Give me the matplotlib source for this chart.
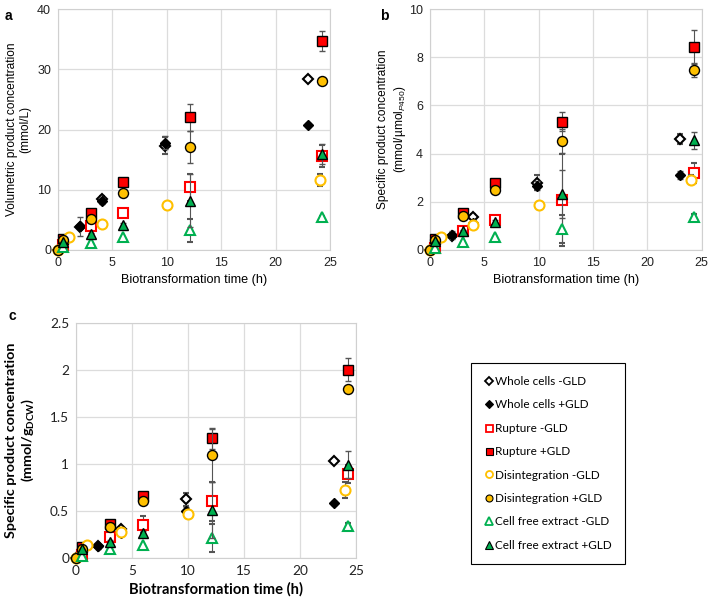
import numpy as np
import matplotlib
matplotlib.use("Agg")
import matplotlib.pyplot as plt
from matplotlib.lines import Line2D

plt.rcParams['font.family'] = ['Liberation Sans', 'DejaVu Sans']
plt.rcParams['mathtext.fontset'] = 'custom'
plt.rcParams['mathtext.rm'] = 'Liberation Sans'
plt.rcParams['mathtext.it'] = 'Liberation Sans:italic'

# sampling times (h)
t_wc = [0, 2, 4, 9.8, 23]           # whole cells
t_ru = [0.5, 3, 6, 12.1, 24.3]      # rupture / cell free extract
t_dm = [0, 1, 4, 10, 24.05]         # disintegration -GLD
t_dp = [0, 0.5, 3, 6, 12.1, 24.3]   # disintegration +GLD

# panel a: volumetric product concentration (mmol/L)
a_wc_m = [0, 3.8, 8.4, 17.3, 28.3]
a_wc_p = [0, 3.9, 8.2, 17.8, 20.7]
a_ru_m = [0.8, 3.9, 6.2, 10.4, 15.6]
a_ru_p = [1.8, 6.2, 11.3, 22.0, 34.7]
a_di_m = [0, 2.1, 4.3, 7.4, 11.6]
a_di_p = [0, 1.6, 5.1, 9.4, 17.1, 28.1]
a_cf_m = [0.5, 1.2, 2.1, 3.3, 5.4]
a_cf_p = [1.3, 2.6, 4.1, 8.2, 15.9]
ae_wc_m = [0, 0, 0.5, 1.4, 0.3]
ae_wc_p = [0, 1.6, 0.5, 1.1, 0.3]
ae_ru_m = [0, 0.3, 0.3, 2.2, 1.9]
ae_ru_p = [0.3, 0.3, 0.3, 2.2, 1.6]
ae_di_m = [0, 0.3, 0.2, 0.4, 1.0]
ae_di_p = [0, 0, 0.3, 0.3, 2.7, 0.3]
ae_cf_m = [0, 0, 0, 1.9, 0.3]
ae_cf_p = [0, 0.3, 0.3, 4.4, 1.7]

# panel b: specific product concentration (mmol/umol P450)
b_wc_m = [0, 0.6, 1.38, 2.8, 4.6]
b_wc_p = [0, 0.62, 1.13, 2.67, 3.11]
b_ru_m = [0.1, 0.8, 1.25, 2.07, 3.2]
b_ru_p = [0.46, 1.52, 2.77, 5.32, 8.41]
b_di_m = [0.02, 0.53, 1.04, 1.85, 2.92]
b_di_p = [0, 0.4, 1.4, 2.48, 4.52, 7.47]
b_cf_m = [0.1, 0.35, 0.53, 0.86, 1.38]
b_cf_p = [0.39, 0.79, 1.18, 2.32, 4.55]
be_wc_m = [0, 0, 0.1, 0.3, 0.2]
be_wc_p = [0, 0.15, 0.1, 0.2, 0.15]
be_ru_m = [0, 0.05, 0.05, 1.9, 0.4]
be_ru_p = [0.05, 0.05, 0.1, 0.4, 0.7]
be_di_m = [0, 0.05, 0.05, 0.15, 0.2]
be_di_p = [0, 0, 0.05, 0.1, 0.5, 0.3]
be_cf_m = [0, 0, 0, 0.58, 0.1]
be_cf_p = [0, 0.05, 0.05, 1.0, 0.35]

# panel c: specific product concentration (mmol/g DCW)
c_wc_m = [0, 0.12, 0.3, 0.62, 1.03]
c_wc_p = [0, 0.12, 0.26, 0.5, 0.58]
c_ru_m = [0.03, 0.22, 0.35, 0.6, 0.89]
c_ru_p = [0.11, 0.36, 0.66, 1.27, 2.0]
c_di_m = [0, 0.13, 0.27, 0.46, 0.72]
c_di_p = [0, 0.09, 0.33, 0.6, 1.09, 1.79]
c_cf_m = [0.02, 0.09, 0.13, 0.21, 0.34]
c_cf_p = [0.09, 0.17, 0.26, 0.51, 0.99]
ce_wc_m = [0, 0, 0.03, 0.07, 0.02]
ce_wc_p = [0, 0.03, 0.03, 0.04, 0.02]
ce_ru_m = [0, 0.03, 0.09, 0.21, 0.1]
ce_ru_p = [0.03, 0.02, 0.02, 0.11, 0.12]
ce_di_m = [0, 0.03, 0.02, 0.03, 0.08]
ce_di_p = [0, 0, 0.02, 0.03, 0.28, 0.03]
ce_cf_m = [0, 0, 0, 0.15, 0.03]
ce_cf_p = [0, 0.02, 0.02, 0.3, 0.14]

labels = ['Whole cells -GLD', 'Whole cells +GLD', 'Rupture -GLD', 'Rupture +GLD',
          'Disintegration -GLD', 'Disintegration +GLD',
          'Cell free extract -GLD', 'Cell free extract +GLD']

RED, YEL, GRN = '#ff0000', '#ffc000', '#00b050'
# marker, size, face, edge
styles = [('D', 5.5, 'white', 'black'), ('D', 5.5, 'black', 'black'),
          ('s', 7.2, 'white', RED), ('s', 7.2, RED, 'black'),
          ('o', 7.2, 'white', YEL), ('o', 7.2, YEL, 'black'),
          ('^', 7.8, 'white', GRN), ('^', 7.8, GRN, 'black')]
times = [t_wc, t_wc, t_ru, t_ru, t_dm, t_dp, t_ru, t_ru]


def draw(ax, vals, errs, yticks, ylabels):
    for i in range(8):
        m, ms, fc, ec = styles[i]
        ax.errorbar(times[i], vals[i], yerr=errs[i], fmt=m, ms=ms, mfc=fc, mec=ec,
                    mew=1.5 if fc == 'white' else 1.0, ecolor='#555555',
                    elinewidth=0.8, capsize=2.5, capthick=0.8, clip_on=False,
                    zorder=3 + i * 0.1)
    ax.set_xlim(0, 25)
    ax.set_ylim(yticks[0], yticks[-1])
    ax.set_xticks([0, 5, 10, 15, 20, 25])
    ax.set_yticks(yticks)
    ax.set_yticklabels(ylabels)
    ax.grid(True, color='#dcdcdc', lw=0.9)
    ax.set_axisbelow(True)
    for s in ax.spines.values():
        s.set_color('#d0d0d0')
    ax.tick_params(length=0, pad=5, colors='#222222')


fig = plt.figure(figsize=(7.09, 6.05), dpi=100)
ax_a = fig.add_axes([0.0818, 0.5868, 0.3836, 0.3983])
ax_b = fig.add_axes([0.6065, 0.5868, 0.3832, 0.3983])
ax_c = fig.add_axes([0.1072, 0.0782, 0.3949, 0.3884])

draw(ax_a, [a_wc_m, a_wc_p, a_ru_m, a_ru_p, a_di_m, a_di_p, a_cf_m, a_cf_p],
     [ae_wc_m, ae_wc_p, ae_ru_m, ae_ru_p, ae_di_m, ae_di_p, ae_cf_m, ae_cf_p],
     [0, 10, 20, 30, 40], ['0', '10', '20', '30', '40'])
draw(ax_b, [b_wc_m, b_wc_p, b_ru_m, b_ru_p, b_di_m, b_di_p, b_cf_m, b_cf_p],
     [be_wc_m, be_wc_p, be_ru_m, be_ru_p, be_di_m, be_di_p, be_cf_m, be_cf_p],
     [0, 2, 4, 6, 8, 10], ['0', '2', '4', '6', '8', '10'])
draw(ax_c, [c_wc_m, c_wc_p, c_ru_m, c_ru_p, c_di_m, c_di_p, c_cf_m, c_cf_p],
     [ce_wc_m, ce_wc_p, ce_ru_m, ce_ru_p, ce_di_m, ce_di_p, ce_cf_m, ce_cf_p],
     [0, 0.5, 1, 1.5, 2, 2.5], ['0', '0.5', '1', '1.5', '2', '2.5'])

for ax in (ax_a, ax_b):
    ax.tick_params(labelsize=9)
    ax.set_xlabel('Biotransformation time (h)', fontsize=9.1, labelpad=4)
ax_a.set_ylabel('Volumetric product concentration\n(mmol/L)', fontsize=8.6, labelpad=4)
ax_b.set_ylabel('Specific product concentration\n(mmol/µmol$_{\\mathit{P450}}$)', fontsize=8.6, labelpad=1)

for lab in ax_c.get_xticklabels() + ax_c.get_yticklabels():
    lab.set_family('Lato')
    lab.set_fontsize(9.8)
ax_c.set_xlabel('Biotransformation time (h)', fontsize=10.6, family='Lato',
                fontweight='bold', labelpad=4)
ax_c.set_ylabel('Specific product concentration\n(mmol/g$_{\\mathregular{DCW}}$)', fontsize=10.3,
                family='Lato', fontweight='bold', labelpad=10)

fig.text(0.006, 0.985, 'a', fontsize=10, fontweight='bold', va='top')
fig.text(0.536, 0.985, 'b', fontsize=10, fontweight='bold', va='top')
fig.text(0.012, 0.49, 'c', fontsize=10, fontweight='bold', va='top')

handles = []
for i in range(8):
    m, ms, fc, ec = styles[i]
    handles.append(Line2D([], [], ls='none', marker=m, ms=ms * 0.7, mfc=fc, mec=ec,
                          mew=1.3 if fc == 'white' else 0.8))
leg = fig.legend(handles, labels, loc='upper left', bbox_to_anchor=(471 / 709, 1 - 363 / 605),
                 frameon=True, fancybox=False, edgecolor='black', framealpha=1,
                 prop={'family': 'Lato', 'size': 8.5}, handlelength=0.8, handletextpad=0.15,
                 labelspacing=1.05, borderpad=1.1, borderaxespad=0)
leg.get_frame().set_linewidth(0.8)

fig.savefig('out.png', dpi=100)
